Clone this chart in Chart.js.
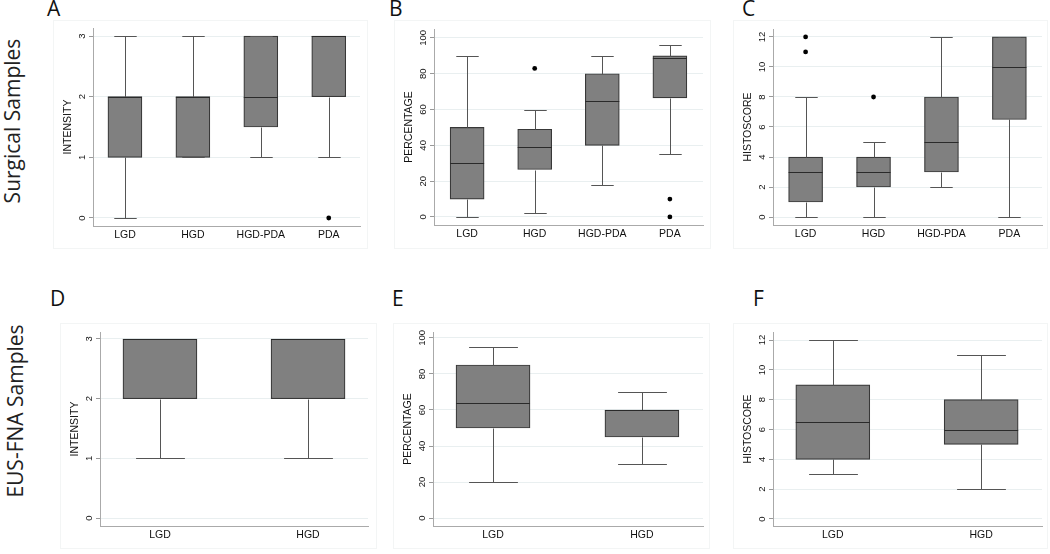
<!DOCTYPE html>
<html>
<head>
<meta charset="utf-8">
<script src="https://cdn.jsdelivr.net/npm/chart.js@4.4.0/dist/chart.umd.min.js"></script>
<style>
  body { margin: 0; background: #fff; width: 1050px; height: 554px; position: relative; overflow: hidden; }
  .panel { position: absolute; box-shadow: inset 0 0 0 1px #f3f5f5; }
  .panel canvas { position: absolute; left: 0; top: 0; }
  .letter { position: absolute; font-family: "Open Sans", sans-serif; font-size: 21px; line-height: 21px; color: #111; }
  .rowlabel { position: absolute; font-family: "Open Sans", sans-serif; font-size: 21px; color: #222;
              white-space: nowrap; transform: translate(-50%, -50%) rotate(-90deg); }
</style>
</head>
<body>
<div class="rowlabel" style="left:12px; top:121px;">Surgical Samples</div>
<div class="rowlabel" style="left:15px; top:411px;">EUS-FNA Samples</div>

<div class="letter" style="left:47px; top:-2px;">A</div>
<div class="letter" style="left:389px; top:-2px;">B</div>
<div class="letter" style="left:742px; top:-2px;">C</div>
<div class="letter" style="left:50px; top:288px;">D</div>
<div class="letter" style="left:392px; top:288px;">E</div>
<div class="letter" style="left:753px; top:288px;">F</div>

<div class="panel" style="left:53px; top:20px; width:315px; height:229px;"><canvas id="cA" width="315" height="229"></canvas></div>
<div class="panel" style="left:394px; top:20px; width:317px; height:229px;"><canvas id="cB" width="317" height="229"></canvas></div>
<div class="panel" style="left:733px; top:20px; width:315px; height:229px;"><canvas id="cC" width="315" height="229"></canvas></div>
<div class="panel" style="left:60px; top:323px; width:317px; height:226px;"><canvas id="cD" width="317" height="226"></canvas></div>
<div class="panel" style="left:393px; top:323px; width:317px; height:226px;"><canvas id="cE" width="317" height="226"></canvas></div>
<div class="panel" style="left:733px; top:323px; width:315px; height:226px;"><canvas id="cF" width="315" height="226"></canvas></div>

<script>
// categories
const surgicalGroups = ['LGD', 'HGD', 'HGD-PDA', 'PDA'];
const eusGroups = ['LGD', 'HGD'];

// tick labels
const intensityTicks = [0, 1, 2, 3];
const percentTicks = [0, 20, 40, 60, 80, 100];
const histoTicks = [0, 2, 4, 6, 8, 10, 12];

// boxes: [min, q1, median, q3, max]
const surgicalIntensity = [[0, 1, 2, 2, 3], [1, 1, 2, 2, 3], [1, 1.5, 2, 3, 3], [1, 2, 3, 3, 3]];
const surgicalIntensityOut = [[], [], [], [0]];
const surgicalPercent = [[0, 10, 30, 50, 90], [2, 26.5, 39, 49, 60], [18, 40, 65, 80, 90], [35, 66.5, 89, 90, 96]];
const surgicalPercentOut = [[], [83], [], [10, 0]];
const surgicalHisto = [[0, 1, 3, 4, 8], [0, 2, 3, 4, 5], [2, 3, 5, 8, 12], [0, 6.5, 10, 12, 12]];
const surgicalHistoOut = [[12, 11], [8], [], []];

const eusIntensity = [[1, 2, 3, 3, 3], [1, 2, 3, 3, 3]];
const eusPercent = [[20, 50, 64, 85, 95], [30, 45, 60, 60, 70]];
const eusHisto = [[3, 4, 6.5, 9, 12], [2, 5, 6, 8, 11]];
const noOutliers = [[], []];

const labelFont = '"Liberation Sans", Arial, sans-serif';

// draws whiskers, caps, medians and the rotated y tick labels
const boxPlugin = {
  id: 'boxWhiskers',
  afterDatasetsDraw(chart, args, opts) {
    const { ctx, scales: { x, y } } = chart;
    const bars = chart.getDatasetMeta(0).data;
    const py = v => Math.round(y.getPixelForValue(v)) + 0.5;
    ctx.save();
    opts.boxes.forEach((b, i) => {
      const bar = bars[i];
      const cx = Math.round(x.getPixelForValue(i + 1)) + 0.5;
      const half = bar.width / 2;
      const cap = half * 0.66;
      ctx.strokeStyle = '#555';
      ctx.lineWidth = 1;
      ctx.beginPath();
      ctx.moveTo(cx, py(b[3])); ctx.lineTo(cx, py(b[4]));
      ctx.moveTo(cx, py(b[1])); ctx.lineTo(cx, py(b[0]));
      ctx.moveTo(cx - cap, py(b[4])); ctx.lineTo(cx + cap, py(b[4]));
      ctx.moveTo(cx - cap, py(b[0])); ctx.lineTo(cx + cap, py(b[0]));
      ctx.stroke();
      ctx.strokeStyle = '#2a2a2a';
      ctx.beginPath();
      ctx.moveTo(bar.x - half, py(b[2])); ctx.lineTo(bar.x + half, py(b[2]));
      ctx.stroke();
    });
    ctx.fillStyle = '#111';
    ctx.font = '9.5px ' + labelFont;
    ctx.textAlign = 'center';
    ctx.textBaseline = 'middle';
    y.ticks.forEach(t => {
      ctx.save();
      ctx.translate(y.right - 11, y.getPixelForValue(t.value));
      ctx.rotate(-Math.PI / 2);
      ctx.fillText(String(t.value), 0, 0);
      ctx.restore();
    });
    ctx.restore();
  }
};

function makePanel(id, groups, boxes, outliers, ticks, title, yRange, xRange, barPx, pad) {
  const pts = [];
  outliers.forEach((list, i) => list.forEach(v => pts.push({ x: i + 1, y: v })));
  new Chart(document.getElementById(id), {
    type: 'bar',
    data: {
      datasets: [
        {
          data: boxes.map((b, i) => ({ x: i + 1, y: [b[1], b[3]] })),
          backgroundColor: '#808080',
          borderColor: '#383838',
          borderWidth: 1.2,
          borderSkipped: false,
          barThickness: barPx
        },
        {
          type: 'scatter',
          data: pts,
          pointRadius: 2.4,
          pointBackgroundColor: '#000',
          pointBorderWidth: 0
        }
      ]
    },
    options: {
      responsive: false,
      animation: false,
      layout: { padding: { left: 0, top: pad.top, right: pad.right, bottom: 0 } },
      plugins: {
        legend: { display: false },
        tooltip: { enabled: false },
        boxWhiskers: { boxes: boxes }
      },
      scales: {
        x: {
          type: 'linear',
          offset: false,
          min: xRange[0],
          max: xRange[1],
          afterBuildTicks: s => { s.ticks = groups.map((g, i) => ({ value: i + 1 })); },
          afterFit: s => { s.height = pad.bottom; },
          grid: { display: false, drawTicks: false },
          border: { color: '#aaaaaa' },
          ticks: {
            autoSkip: false,
            maxRotation: 0,
            padding: 3,
            color: '#111',
            font: { family: labelFont, size: 10.5 },
            callback: v => groups[v - 1]
          }
        },
        y: {
          min: yRange[0],
          max: yRange[1],
          afterBuildTicks: s => { s.ticks = ticks.map(v => ({ value: v })); },
          afterFit: s => { s.width = 40; },
          grid: { color: '#e9eff0', tickColor: '#999', tickLength: 4 },
          border: { color: '#aaaaaa' },
          ticks: { display: false },
          title: {
            display: true,
            text: title,
            color: '#111',
            font: { family: labelFont, size: 10.5 },
            padding: { top: 9, bottom: 0 }
          }
        }
      }
    },
    plugins: [boxPlugin]
  });
}

makePanel('cA', surgicalGroups, surgicalIntensity, surgicalIntensityOut, intensityTicks, 'INTENSITY',
  [-0.132, 3.132], [0.53, 4.46], 34, { top: 8, right: 8, bottom: 23 });
makePanel('cB', surgicalGroups, surgicalPercent, surgicalPercentOut, percentTicks, 'PERCENTAGE',
  [-4.5, 105], [0.51, 4.49], 34, { top: 9, right: 8, bottom: 24 });
makePanel('cC', surgicalGroups, surgicalHisto, surgicalHistoOut, histoTicks, 'HISTOSCORE',
  [-0.53, 12.53], [0.52, 4.48], 34, { top: 9, right: 6, bottom: 24 });
makePanel('cD', eusGroups, eusIntensity, noOutliers, intensityTicks, 'INTENSITY',
  [-0.134, 3.117], [0.595, 2.405], 74, { top: 9, right: 9, bottom: 23 });
makePanel('cE', eusGroups, eusPercent, noOutliers, percentTicks, 'PERCENTAGE',
  [-4.4, 103.3], [0.597, 2.41], 74, { top: 9, right: 7, bottom: 23 });
makePanel('cF', eusGroups, eusHisto, noOutliers, histoTicks, 'HISTOSCORE',
  [-0.47, 12.54], [0.597, 2.41], 74, { top: 9, right: 6, bottom: 23 });
</script>
</body>
</html>
